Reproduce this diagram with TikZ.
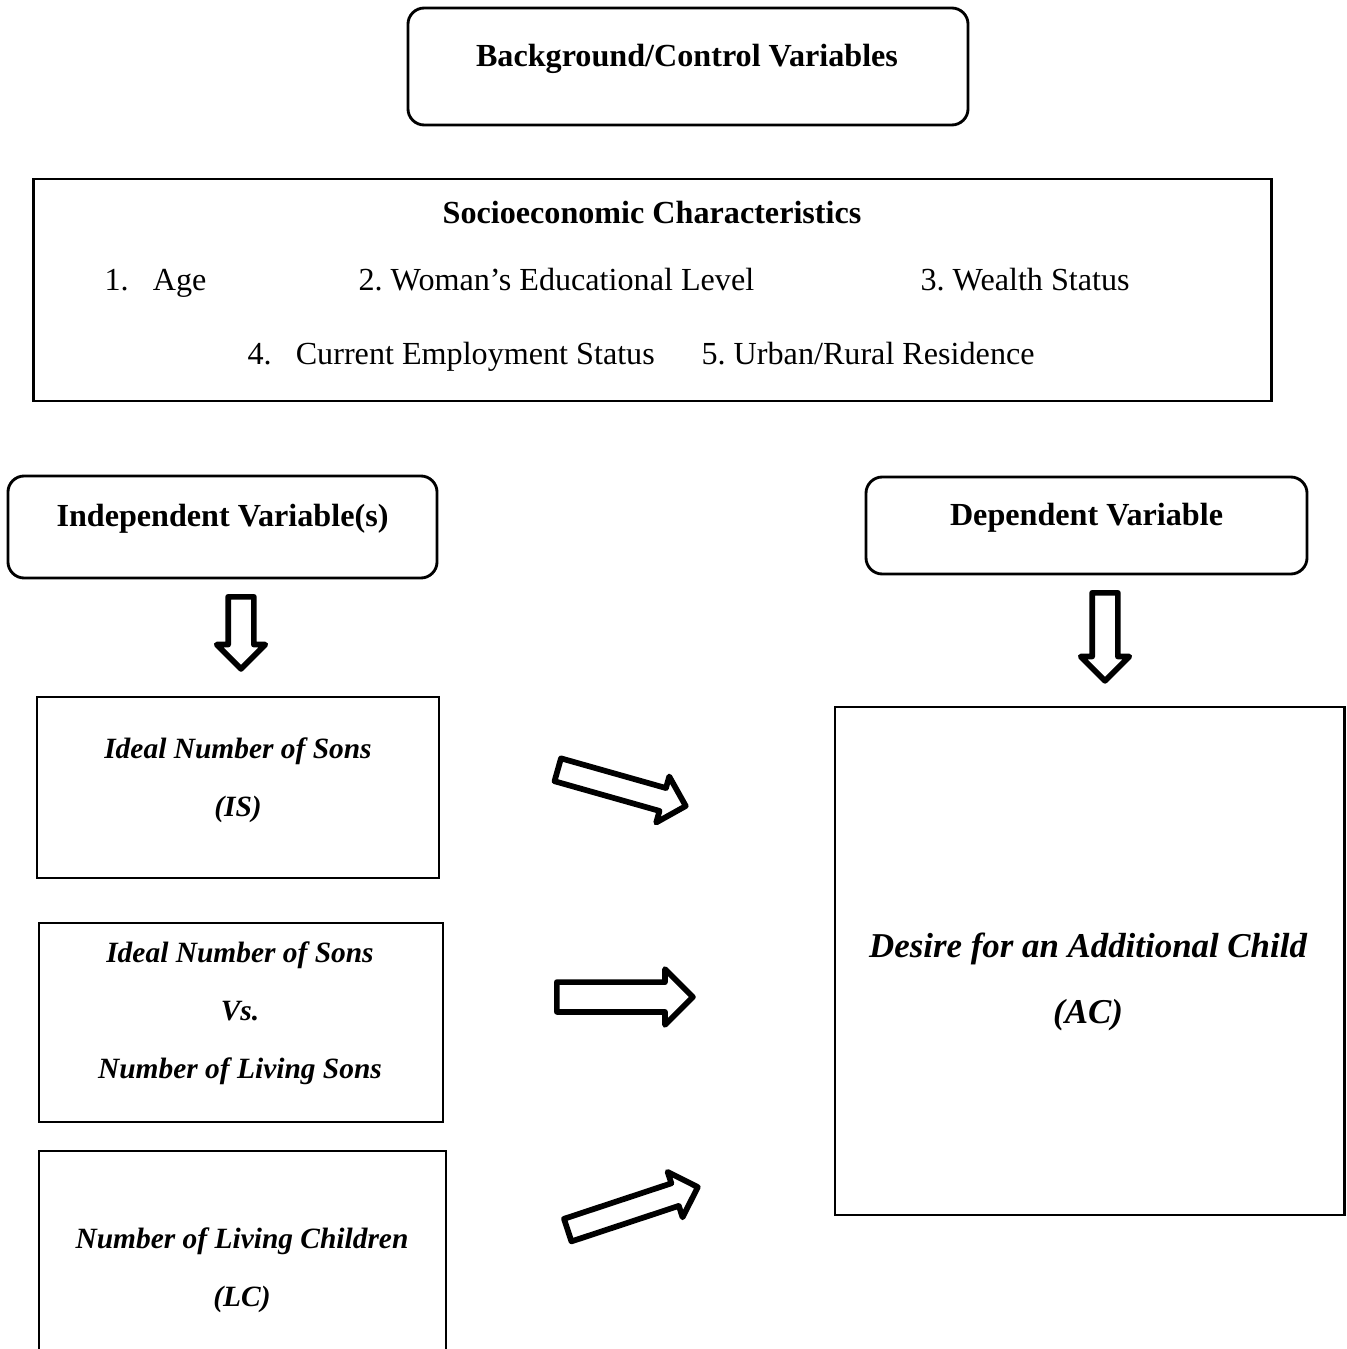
\documentclass[tikz,border=0pt]{standalone}
\usepackage{fontspec}
\setmainfont{Liberation Serif}
\usetikzlibrary{shapes.arrows}
\frenchspacing

\tikzset{
  roundbox/.style={draw, line width=1pt, rounded corners=0.2cm, inner sep=0pt},
  plainbox/.style={draw, line width=1pt, inner sep=0pt},
  headtext/.style={font=\fontsize{11.25}{14}\selectfont\bfseries, inner sep=0pt},
  itemtext/.style={font=\fontsize{11.25}{14}\selectfont, inner sep=0pt, text height=1.5ex, text depth=.25ex, anchor=west},
  vartext/.style={font=\fontsize{10.3}{20.3}\selectfont\bfseries\itshape, align=center, inner sep=0pt},
  hollowarrow/.style={single arrow, draw, fill=white, line width=2pt, line join=round,
    inner xsep=0pt, anchor=tail},
}

\begin{document}
\begin{tikzpicture}[x=0.0123cm, y=-0.0123cm]
  \useasboundingbox (0,0) rectangle (1347,1349);
  \clip (0,0) rectangle (1347,1349);

  % background / control variables
  \node[roundbox, minimum width=6.888cm, minimum height=1.439cm] (bgctrl) at (688,66.5) {};
  \node[headtext] (bgctrltext) at (687,59) {Background/Control Variables};

  \node[plainbox, minimum width=15.215cm, minimum height=2.731cm] (socio) at (652.5,290) {};
  \node[headtext] (sociotitle) at (652,213) {Socioeconomic Characteristics};
  \node[itemtext] (age) at (104,282) {1.\hspace{0.75em}Age};
  \node[itemtext] (edu) at (358,282) {2. Woman’s Educational Level};
  \node[itemtext] (wealth) at (920,282) {3. Wealth Status};
  \node[itemtext] (employ) at (247,356) {4.\hspace{0.75em}Current Employment Status};
  \node[itemtext] (resid) at (701,356) {5. Urban/Rural Residence};

  % independent side
  \node[roundbox, minimum width=5.277cm, minimum height=1.255cm] (indep) at (222.5,527) {};
  \node[headtext] (indeptext) at (222.5,519) {Independent Variable(s)};
  \node[hollowarrow, rotate=-90, inner ysep=0.123cm, single arrow head extend=0.141cm,
    minimum height=0.886cm] (downindep) at (241,594) {};

  \node[plainbox, minimum width=4.945cm, minimum height=2.226cm] (is) at (238,787.5) {};
  \node[vartext] (istext) at (238,780) {Ideal Number of Sons\\(IS)};

  \node[plainbox, minimum width=4.969cm, minimum height=2.448cm] (vs) at (241,1022.5) {};
  \node[vartext] (vstext) at (240,1013) {Ideal Number of Sons\\Vs.\\Number of Living Sons};

  \node[plainbox, minimum width=5.006cm, minimum height=3.309cm] (lc) at (242.5,1285.5) {};
  \node[vartext] (lctext) at (242,1270) {Number of Living Children\\(LC)};

  % dependent side
  \node[roundbox, minimum width=5.424cm, minimum height=1.193cm] (dep) at (1086.5,525.5) {};
  \node[headtext] (deptext) at (1086.5,518) {Dependent Variable};
  \node[hollowarrow, rotate=-90, inner ysep=0.123cm, single arrow head extend=0.141cm,
    minimum height=1.082cm] (downdep) at (1105,590) {};

  \node[plainbox, minimum width=6.261cm, minimum height=6.248cm] (ac) at (1089.5,961) {};
  \node[vartext, font=\fontsize{12.2}{23}\selectfont\bfseries\itshape] (actext) at (1088,982)
    {Desire for an Additional Child\\(AC)};

  % block arrows between the columns
  \node[hollowarrow, rotate=-15.8, inner ysep=0.111cm, single arrow head extend=0.148cm,
    minimum height=1.636cm] (arris) at (555,769) {};
  \node[hollowarrow, inner ysep=0.148cm, single arrow head extend=0.16cm,
    minimum height=1.673cm] (arrvs) at (554,997) {};
  \node[hollowarrow, rotate=18.3, inner ysep=0.111cm, single arrow head extend=0.148cm,
    minimum height=1.685cm] (arrlc) at (565,1231) {};
\end{tikzpicture}
\end{document}
